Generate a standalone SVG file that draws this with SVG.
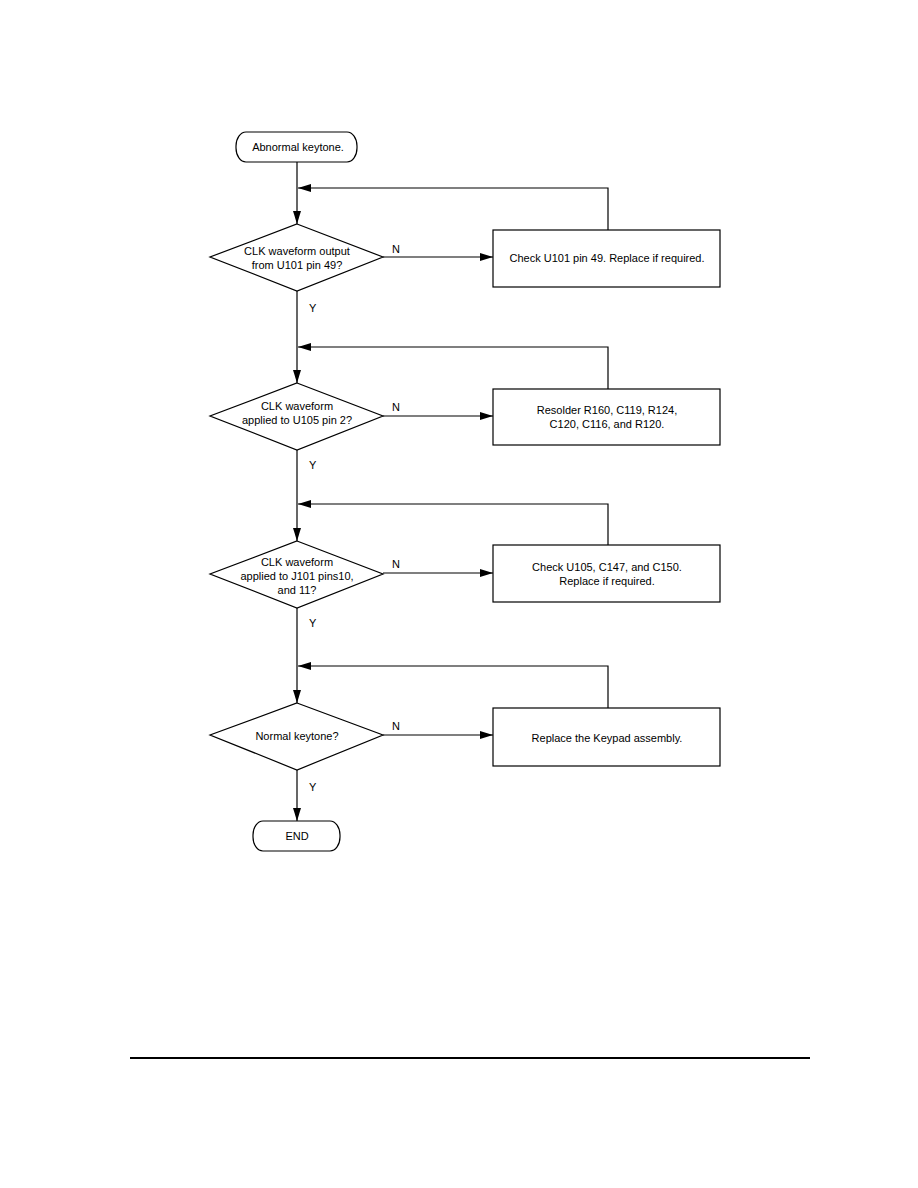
<svg xmlns="http://www.w3.org/2000/svg" width="918" height="1188" viewBox="0 0 918 1188">
<style>
.s{fill:#fff;stroke:#000;stroke-width:1.2}
.c{fill:none;stroke:#000;stroke-width:1.2}
text{font-family:"Liberation Sans",Arial,sans-serif;font-size:11px;fill:#000}
.m{text-anchor:middle}
</style>
<defs>
<marker id="ah" markerUnits="userSpaceOnUse" markerWidth="14" markerHeight="8" refX="13" refY="4" orient="auto">
<path d="M0,0 L13,4 L0,8 z" fill="#000"/>
</marker>
</defs>
<rect width="918" height="1188" fill="#fff"/>
<g id="connectors">
<line class="c" x1="297" y1="162" x2="297" y2="224" marker-end="url(#ah)"/>
<polyline class="c" points="608,230 608,188 298,188" marker-end="url(#ah)"/>
<line class="c" x1="383" y1="257" x2="493" y2="257" marker-end="url(#ah)"/>
<line class="c" x1="297" y1="291" x2="297" y2="383" marker-end="url(#ah)"/>
<polyline class="c" points="608,389 608,347 298,347" marker-end="url(#ah)"/>
<line class="c" x1="383" y1="416" x2="493" y2="416" marker-end="url(#ah)"/>
<line class="c" x1="297" y1="450" x2="297" y2="541" marker-end="url(#ah)"/>
<polyline class="c" points="608,545 608,504 298,504" marker-end="url(#ah)"/>
<line class="c" x1="383" y1="573" x2="493" y2="573" marker-end="url(#ah)"/>
<line class="c" x1="297" y1="608" x2="297" y2="703" marker-end="url(#ah)"/>
<polyline class="c" points="608,708 608,666 298,666" marker-end="url(#ah)"/>
<line class="c" x1="383" y1="735" x2="493" y2="735" marker-end="url(#ah)"/>
<line class="c" x1="297" y1="770" x2="297" y2="821" marker-end="url(#ah)"/>
<text x="392" y="253">N</text>
<text x="392" y="411">N</text>
<text x="392" y="568">N</text>
<text x="392" y="730">N</text>
<text x="309" y="312">Y</text>
<text x="309" y="469">Y</text>
<text x="309" y="627">Y</text>
<text x="309" y="791">Y</text>
</g>
<g id="start">
<rect class="s" x="236" y="132" width="121" height="30" rx="10" ry="14"/>
<text class="m" x="298" y="151">Abnormal keytone.</text>
</g>
<g id="d1">
<polygon class="s" points="297,224 383,257 297,291 210,257"/>
<text class="m" x="297" y="255">CLK waveform output</text>
<text class="m" x="297" y="269">from U101 pin 49?</text>
</g>
<g id="b1">
<rect class="s" x="493" y="230" width="227" height="57"/>
<text class="m" x="607" y="262">Check U101 pin 49. Replace if required.</text>
</g>
<g id="d2">
<polygon class="s" points="297,383 383,416 297,450 210,416"/>
<text class="m" x="297" y="410">CLK waveform</text>
<text class="m" x="297" y="424">applied to U105 pin 2?</text>
</g>
<g id="b2">
<rect class="s" x="493" y="389" width="227" height="56"/>
<text class="m" x="607" y="414">Resolder R160, C119, R124,</text>
<text class="m" x="607" y="428">C120, C116, and R120.</text>
</g>
<g id="d3">
<polygon class="s" points="297,541 383,574 297,608 210,574"/>
<text class="m" x="297" y="566">CLK waveform</text>
<text class="m" x="297" y="580">applied to J101 pins10,</text>
<text class="m" x="297" y="594">and 11?</text>
</g>
<g id="b3">
<rect class="s" x="493" y="545" width="227" height="57"/>
<text class="m" x="607" y="571">Check U105, C147, and C150.</text>
<text class="m" x="607" y="585">Replace if required.</text>
</g>
<g id="d4">
<polygon class="s" points="297,703 383,735 297,770 210,735"/>
<text class="m" x="297" y="740">Normal keytone?</text>
</g>
<g id="b4">
<rect class="s" x="493" y="708" width="227" height="58"/>
<text class="m" x="607" y="742">Replace the Keypad assembly.</text>
</g>
<g id="end">
<rect class="s" x="253" y="821" width="87" height="30" rx="10" ry="14"/>
<text class="m" x="297" y="840">END</text>
</g>
<line x1="130" y1="1058" x2="810" y2="1058" stroke="#000" stroke-width="2"/>
</svg>
